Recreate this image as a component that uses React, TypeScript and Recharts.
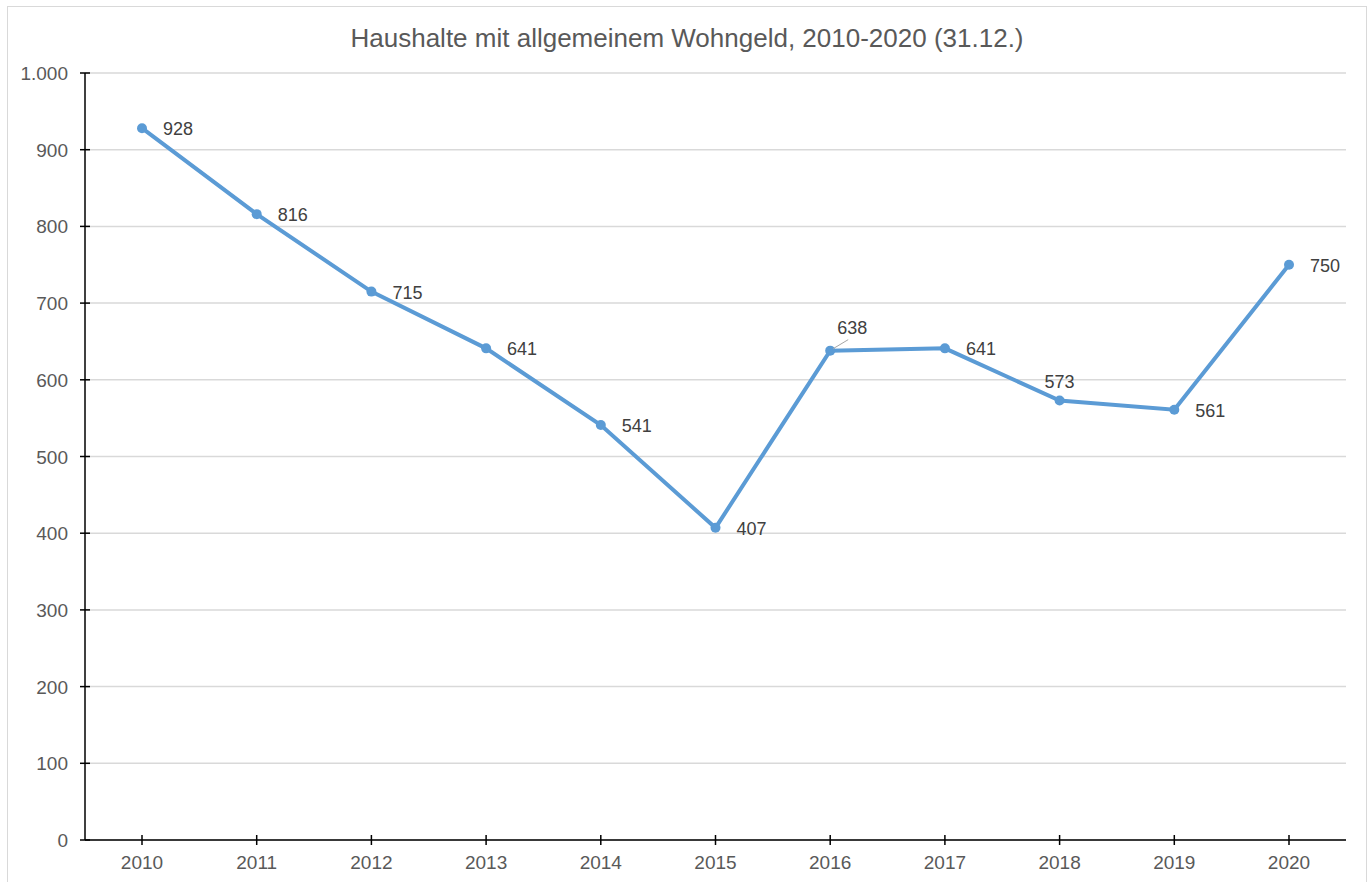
import { CartesianGrid, LabelList, Line, LineChart, XAxis, YAxis } from "recharts"

const years = ["2010", "2011", "2012", "2013", "2014", "2015", "2016", "2017", "2018", "2019", "2020"]
const households = [928, 816, 715, 641, 541, 407, 638, 641, 573, 561, 750]
const yTicks = [0, 100, 200, 300, 400, 500, 600, 700, 800, 900, 1000]
const title = "Haushalte mit allgemeinem Wohngeld, 2010-2020 (31.12.)"

// label placement: most labels sit right of the point
const labelSpot: Record<number, string> = { 6: "leader", 8: "top" }

const data = years.map((year, i) => ({ year, value: households[i] }))

const font = "'Liberation Sans', Arial, sans-serif"
const textColor = "#595959"
const lineColor = "#5b9bd5"

const fmt = (v: number) => v.toLocaleString("de-DE")

function YTick(props: any) {
  const { x, y, payload } = props
  return (
    <g>
      <line x1={x - 5} x2={x + 5} y1={y} y2={y} stroke="#000" strokeWidth={1.5} />
      <text x={x - 17} y={y + 7} textAnchor="end" fill={textColor} fontSize={19} fontFamily={font}>
        {fmt(payload.value)}
      </text>
    </g>
  )
}

function XTick(props: any) {
  const { x, y, payload } = props
  return (
    <g>
      <line x1={x} x2={x} y1={y - 5} y2={y + 5} stroke="#000" strokeWidth={1.5} />
      <text x={x} y={y + 29} textAnchor="middle" fill={textColor} fontSize={19} fontFamily={font}>
        {payload.value}
      </text>
    </g>
  )
}

function PointLabel(props: any) {
  const { x, y, value, index } = props
  const spot = labelSpot[index]
  const common = { fill: "#404040", fontSize: 18, fontFamily: font }
  if (spot === "leader") {
    return (
      <g>
        <line x1={x + 3} y1={y - 2} x2={x + 18} y2={y - 11} stroke="#a6a6a6" strokeWidth={1} />
        <text x={x + 22} y={y - 17} textAnchor="middle" {...common}>{fmt(value)}</text>
      </g>
    )
  }
  if (spot === "top") {
    return <text x={x} y={y - 13} textAnchor="middle" {...common}>{fmt(value)}</text>
  }
  return <text x={x + 21} y={y + 7} textAnchor="start" {...common}>{fmt(value)}</text>
}

export default function App() {
  return (
    <div style={{ position: "fixed", inset: 0, overflow: "hidden", background: "#fff" }}>
      <div
        style={{
          position: "absolute",
          left: 7,
          top: 6,
          width: 1360,
          height: 890,
          boxSizing: "border-box",
          border: "1px solid #d9d9d9",
          background: "#fff",
        }}
      >
        <div
          style={{
            position: "absolute",
            left: 0,
            right: 0,
            top: 16,
            textAlign: "center",
            fontFamily: font,
            fontSize: 26,
            color: textColor,
            lineHeight: "30px",
          }}
        >
          {title}
        </div>
        <LineChart width={1358} height={880} data={data} margin={{ top: 66, right: 20, bottom: 7, left: 17 }}>
          <CartesianGrid vertical={false} stroke="#d9d9d9" strokeWidth={1.5} />
          <XAxis
            dataKey="year"
            height={40}
            padding={{ left: 57, right: 57 }}
            tickSize={0}
            tickMargin={0}
            tickLine={false}
            axisLine={{ stroke: "#000", strokeWidth: 1.5 }}
            tick={<XTick />}
            interval={0}
          />
          <YAxis
            width={60}
            domain={[0, 1000]}
            ticks={yTicks}
            tickSize={0}
            tickMargin={0}
            tickLine={false}
            axisLine={{ stroke: "#000", strokeWidth: 1.5 }}
            tick={<YTick />}
            interval={0}
          />
          <Line
            type="linear"
            dataKey="value"
            stroke={lineColor}
            strokeWidth={4}
            dot={{ r: 5, fill: lineColor, stroke: lineColor, strokeWidth: 0 }}
            activeDot={false}
            isAnimationActive={false}
          >
            <LabelList dataKey="value" content={<PointLabel />} />
          </Line>
        </LineChart>
      </div>
    </div>
  )
}
